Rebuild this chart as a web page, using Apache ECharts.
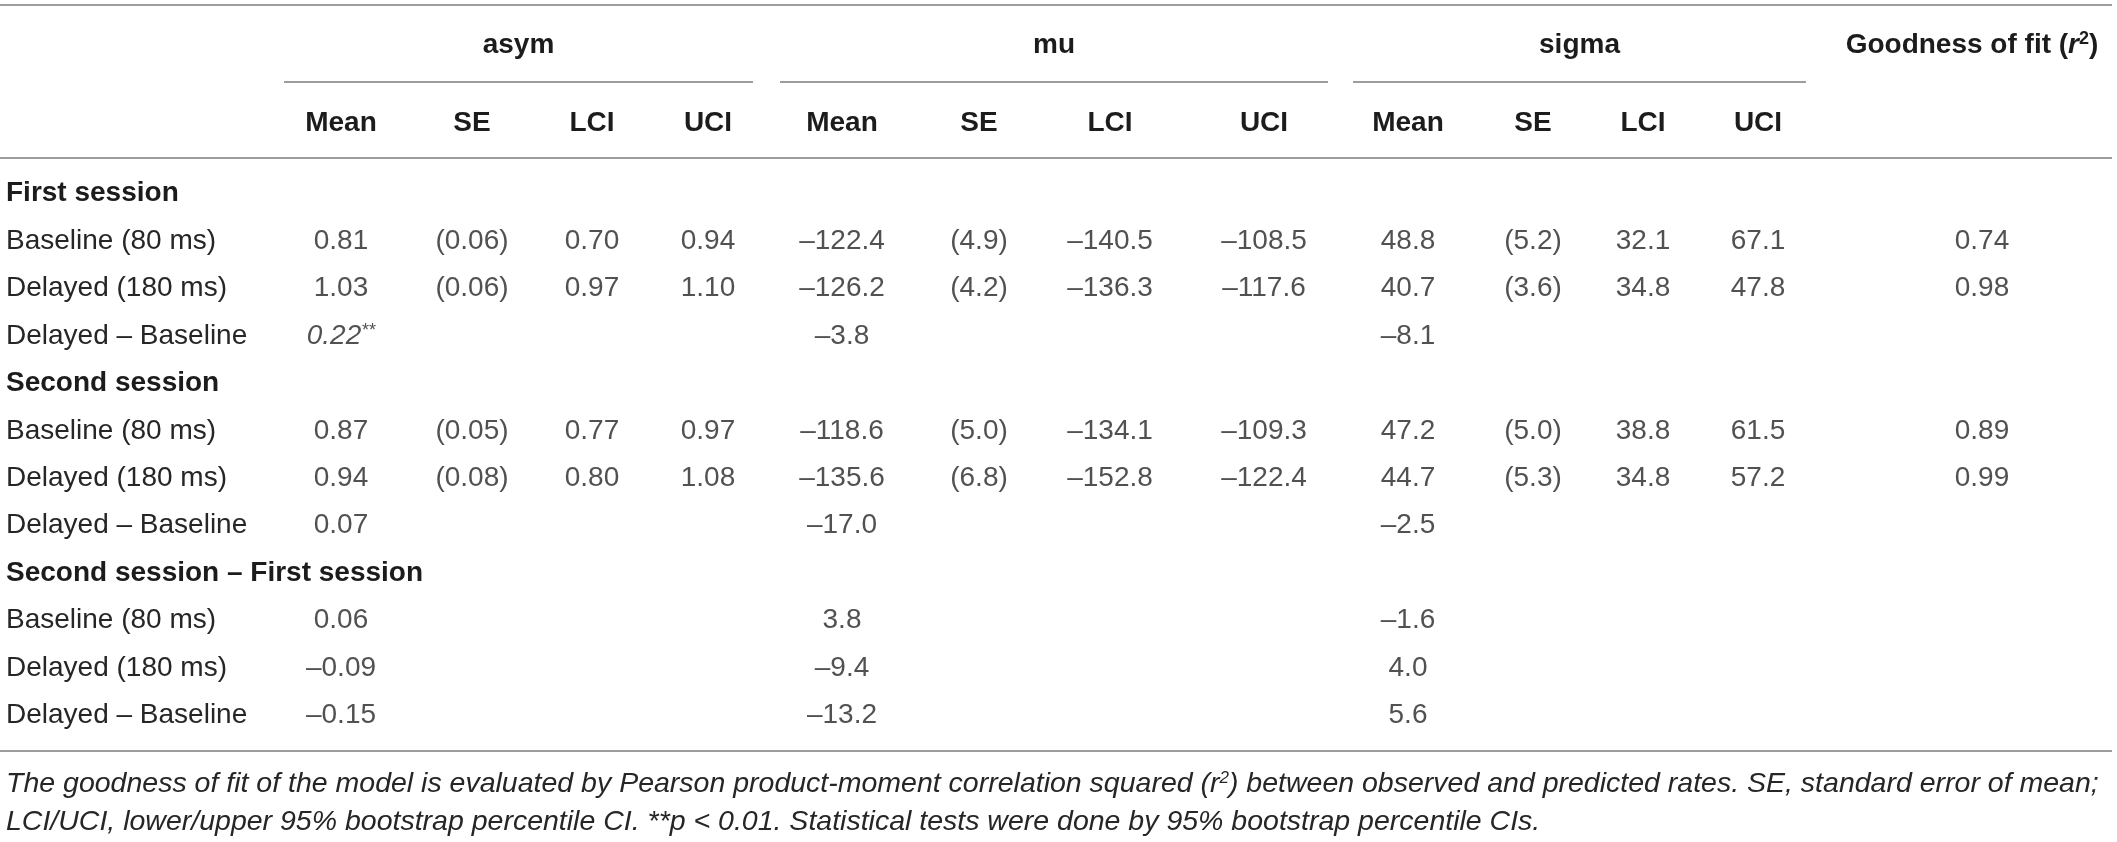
<!DOCTYPE html>
<html>
  <head>
    <meta charset="utf-8">
    <title>Model parameters table</title>
    <style>
      html, body { margin: 0; padding: 0; background: #fff; }
    </style>
  </head>
  <body>
    <div id="main" style="width: 2117px;height:842px;"></div>

  <script src="https://cdn.jsdelivr.net/npm/echarts@6/dist/echarts.min.js" charset="utf-8"></script>
  <script type="text/javascript">
  // rows (y categories)
  var rowLabels = ['First session', 'Baseline (80 ms)', 'Delayed (180 ms)', 'Delayed \u2013 Baseline',
                   'Second session', 'Baseline (80 ms)', 'Delayed (180 ms)', 'Delayed \u2013 Baseline',
                   'Second session \u2013 First session', 'Baseline (80 ms)', 'Delayed (180 ms)', 'Delayed \u2013 Baseline'];
  var sectionRows = [0, 4, 8];
  var groups = ['asym', 'mu', 'sigma'];
  var statCols = ['Mean', 'SE', 'LCI', 'UCI'];
  var gofTitle = 'Goodness of fit';

  // values per column (null = empty cell)
  var asymMean  = [null, 0.81, 1.03, 0.22, null, 0.87, 0.94, 0.07, null, 0.06, -0.09, -0.15];
  var asymSE    = [null, 0.06, 0.06, null, null, 0.05, 0.08, null, null, null, null, null];
  var asymLCI   = [null, 0.70, 0.97, null, null, 0.77, 0.80, null, null, null, null, null];
  var asymUCI   = [null, 0.94, 1.10, null, null, 0.97, 1.08, null, null, null, null, null];
  var muMean    = [null, -122.4, -126.2, -3.8, null, -118.6, -135.6, -17.0, null, 3.8, -9.4, -13.2];
  var muSE      = [null, 4.9, 4.2, null, null, 5.0, 6.8, null, null, null, null, null];
  var muLCI     = [null, -140.5, -136.3, null, null, -134.1, -152.8, null, null, null, null, null];
  var muUCI     = [null, -108.5, -117.6, null, null, -109.3, -122.4, null, null, null, null, null];
  var sigmaMean = [null, 48.8, 40.7, -8.1, null, 47.2, 44.7, -2.5, null, -1.6, 4.0, 5.6];
  var sigmaSE   = [null, 5.2, 3.6, null, null, 5.0, 5.3, null, null, null, null, null];
  var sigmaLCI  = [null, 32.1, 34.8, null, null, 38.8, 34.8, null, null, null, null, null];
  var sigmaUCI  = [null, 67.1, 47.8, null, null, 61.5, 57.2, null, null, null, null, null];
  var gof       = [null, 0.74, 0.98, null, null, 0.89, 0.99, null, null, null, null, null];

  // significance marks (column name, row index, mark)
  var sigMarks = [['asymMean', 3, '**']];

  var footLine1a = 'The goodness of fit of the model is evaluated by Pearson product-moment correlation squared (';
  var footLine1b = ') between observed and predicted rates. SE, standard error of mean;';
  var footLine2 = 'LCI/UCI, lower/upper 95% bootstrap percentile CI. **p < 0.01. Statistical tests were done by 95% bootstrap percentile CIs.';

  // layout (pixels)
  var colX = { asym: [341, 472, 592, 708], mu: [842, 979, 1110, 1264], sigma: [1408, 1533, 1643, 1758], gof: 1982 };
  var groupSpan = { asym: [284, 753], mu: [780, 1328], sigma: [1353, 1806] };
  var Y = { topRule: 5, group: 45, groupRule: 82, sub: 123, headRule: 158, bottomRule: 751, foot1: 784, foot2: 822 };
  var FONT = '"Liberation Sans", Arial, Helvetica, sans-serif';
  var TXT = '#262626';
  var HEAD = '#1c1c1c';
  var RULE = '#7c7c7c';

  var columns = [
    { name: 'asymMean', x: colX.asym[0], vals: asymMean, dec: 2 },
    { name: 'asymSE', x: colX.asym[1], vals: asymSE, dec: 2, paren: true },
    { name: 'asymLCI', x: colX.asym[2], vals: asymLCI, dec: 2 },
    { name: 'asymUCI', x: colX.asym[3], vals: asymUCI, dec: 2 },
    { name: 'muMean', x: colX.mu[0], vals: muMean, dec: 1 },
    { name: 'muSE', x: colX.mu[1], vals: muSE, dec: 1, paren: true },
    { name: 'muLCI', x: colX.mu[2], vals: muLCI, dec: 1 },
    { name: 'muUCI', x: colX.mu[3], vals: muUCI, dec: 1 },
    { name: 'sigmaMean', x: colX.sigma[0], vals: sigmaMean, dec: 1 },
    { name: 'sigmaSE', x: colX.sigma[1], vals: sigmaSE, dec: 1, paren: true },
    { name: 'sigmaLCI', x: colX.sigma[2], vals: sigmaLCI, dec: 1 },
    { name: 'sigmaUCI', x: colX.sigma[3], vals: sigmaUCI, dec: 1 },
    { name: 'gof', x: colX.gof, vals: gof, dec: 2 }
  ];

  function fmt(v, dec) {
    return (v < 0 ? '\u2013' : '') + Math.abs(v).toFixed(dec);
  }

  var cells = [];
  columns.forEach(function (c) {
    c.vals.forEach(function (v, r) {
      if (v === null) return;
      var s = fmt(v, c.dec);
      if (c.paren) s = '(' + s + ')';
      var mark = sigMarks.filter(function (m) { return m[0] === c.name && m[1] === r; })[0];
      if (mark) s = '{it|' + s + '}{sup|' + mark[2] + '}';
      cells.push({ name: s, value: [c.x, r] });
    });
  });

  // header texts and rules
  var graphic = [];
  function text(x, y, str, font, align, rich, fill) {
    graphic.push({
      type: 'text', silent: true,
      style: { x: x, y: y, text: str, font: font, fill: fill || TXT, align: align || 'center', verticalAlign: 'middle', rich: rich }
    });
  }
  function rule(x1, x2, y) {
    graphic.push({ type: 'line', silent: true, shape: { x1: x1, y1: y, x2: x2, y2: y }, style: { stroke: RULE, lineWidth: 1.6 } });
  }

  rule(0, 2112, Y.topRule);
  rule(0, 2112, Y.headRule);
  rule(0, 2112, Y.bottomRule);
  groups.forEach(function (g) {
    var sp = groupSpan[g];
    rule(sp[0], sp[1], Y.groupRule);
    text((sp[0] + sp[1]) / 2, Y.group, g, 'bold 28px ' + FONT, 'center', null, HEAD);
    statCols.forEach(function (s, i) {
      text(colX[g][i], Y.sub, s, 'bold 28px ' + FONT, 'center', null, HEAD);
    });
  });
  text(1972, Y.group, '{b|' + gofTitle + ' (}{bi|r}{sup|2}{b|)}', 'bold 28px ' + FONT, 'center', {
    b: { fontSize: 28, fontWeight: 'bold', fontFamily: FONT, color: HEAD },
    bi: { fontSize: 28, fontWeight: 'bold', fontStyle: 'italic', fontFamily: FONT, color: HEAD },
    sup: { fontSize: 18, fontWeight: 'bold', fontFamily: FONT, color: HEAD, verticalAlign: 'top', padding: [0, 0, 12, 0] }
  }, HEAD);
  text(6, Y.foot1, '{i|' + footLine1a + 'r}{s|2}{i|' + footLine1b + '}', 'italic 28.5px ' + FONT, 'left', {
    i: { fontSize: 28.5, fontStyle: 'italic', fontFamily: FONT, color: TXT },
    s: { fontSize: 17, fontStyle: 'italic', fontFamily: FONT, color: TXT, verticalAlign: 'top', padding: [0, 0, 10, 0] }
  });
  text(6, Y.foot2, footLine2, 'italic 28.5px ' + FONT, 'left');

  var myChart = echarts.init(document.getElementById('main'));

  var option = {
    animation: false,
    backgroundColor: '#ffffff',
    grid: { left: 0, right: 0, top: 170, height: 569, outerBoundsMode: 'none' },
    xAxis: { type: 'value', min: 0, max: 2117, show: false },
    yAxis: {
      type: 'category',
      inverse: true,
      data: rowLabels,
      axisLine: { show: false },
      axisTick: { show: false },
      splitLine: { show: false },
      axisLabel: {
        inside: true,
        interval: 0,
        margin: 6,
        formatter: function (v, i) {
          return sectionRows.indexOf(i) >= 0 ? '{b|' + v + '}' : '{n|' + v + '}';
        },
        rich: {
          b: { fontSize: 28, fontWeight: 'bold', fontFamily: FONT, color: HEAD },
          n: { fontSize: 28, fontFamily: FONT, color: TXT }
        }
      }
    },
    series: [{
      type: 'scatter',
      symbolSize: 0,
      silent: true,
      data: cells,
      label: {
        show: true,
        position: 'inside',
        formatter: function (p) { return p.name; },
        fontSize: 28,
        fontFamily: FONT,
        color: TXT,
        rich: {
          it: { fontSize: 28, fontStyle: 'italic', fontFamily: FONT, color: TXT },
          sup: { fontSize: 18, fontStyle: 'italic', fontFamily: FONT, color: TXT, verticalAlign: 'top', padding: [0, 0, 10, 0] }
        }
      }
    }],
    graphic: graphic
  };
  myChart.setOption(option);
  </script>
  </body>
</html>
